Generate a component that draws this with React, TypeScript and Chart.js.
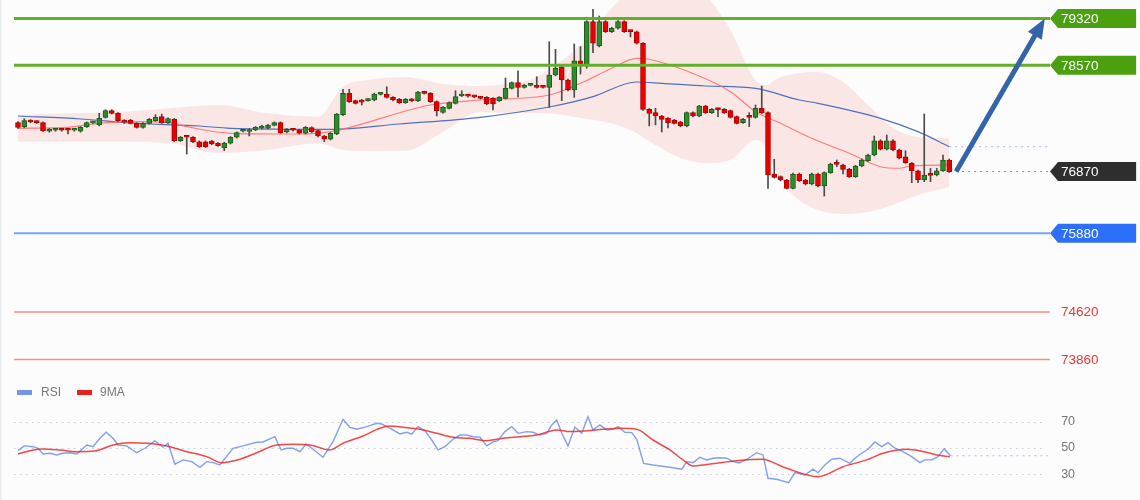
import React, { useEffect, useRef } from "react";
import { Chart, registerables } from "chart.js";
Chart.register(...registerables);

// ---------- candle data (price) ----------
const OPEN = [
  77652, 77588, 77684, 77668, 77652, 77514, 77530, 77540, 77535, 77530,
  77514, 77588, 77650, 77615, 77738, 77844, 77802, 77679, 77695, 77642,
  77578, 77642, 77684, 77748, 77652, 77706, 77363, 77423, 77418, 77347,
  77347, 77359, 77322, 77247, 77322, 77418, 77515, 77510, 77535, 77562,
  77562, 77610, 77652, 77503, 77540, 77535, 77482, 77572, 77524, 77439,
  77386, 77471, 77775, 78122, 78004, 77990, 78004, 78015, 78105, 78111,
  78058, 78026, 77972, 78026, 78004, 78143, 78122, 77988, 77818, 77882,
  77962, 78079, 78085, 78075, 78055, 78058, 78042, 78004, 78042, 78202,
  78292, 78218, 78250, 78250, 78239, 78218, 78415, 78548, 78335, 78175,
  78644, 78575, 79269, 78880, 79269, 79108, 79163, 79269, 79125, 79108,
  78923, 77866, 77812, 77759, 77722, 77695, 77663, 77599, 77812, 77759,
  77919, 77812, 77870, 77866, 77844, 77748, 77652, 77748, 77738, 77882,
  77812, 76830, 76787, 76734, 76601, 76830, 76734, 76670, 76830, 76638,
  76851, 76995, 76974, 76905, 76787, 76958, 77043, 77134, 77363, 77226,
  77363, 77215, 77107, 77002, 76883, 76734, 76820, 76814, 76883, 77055,
];
const HIGH = [
  77670, 77716, 77700, 77680, 77665, 77560, 77555, 77550, 77546, 77555,
  77590, 77665, 77675, 77802, 77860, 77860, 77815, 77700, 77705, 77650,
  77655, 77720, 77780, 77790, 77730, 77720, 77430, 77435, 77430, 77360,
  77360, 77370, 77335, 77340, 77430, 77505, 77545, 77555, 77590, 77612,
  77625, 77665, 77665, 77560, 77550, 77545, 77590, 77585, 77535, 77450,
  77495, 77800, 78186, 78186, 78015, 78026, 78040, 78125, 78125, 78228,
  78070, 78040, 78040, 78040, 78155, 78155, 78135, 78000, 77910, 77985,
  78164, 78164, 78095, 78090, 78065, 78070, 78055, 78070, 78367, 78305,
  78484, 78268, 78270, 78388, 78250, 78948, 78827, 78560, 78350, 78912,
  78870, 79285, 79467, 79360, 79285, 79180, 79285, 79285, 79135, 79120,
  78935, 77880, 77882, 77770, 77735, 77705, 77675, 77825, 77825, 77930,
  77930, 77880, 77882, 77880, 77855, 77760, 77720, 77812, 77935, 78239,
  77825, 77066, 76800, 76745, 76845, 76845, 76745, 76845, 76845, 76865,
  77005, 77055, 76990, 76920, 76970, 77070, 77150, 77439, 77380, 77455,
  77380, 77230, 77203, 77015, 76895, 77791, 76920, 76920, 77134, 77070,
];
const LOW = [
  77560, 77570, 77650, 77640, 77510, 77500, 77515, 77515, 77471, 77515,
  77500, 77575, 77640, 77600, 77725, 77790, 77670, 77640, 77630, 77565,
  77565, 77630, 77675, 77640, 77640, 77350, 77350, 77150, 77330, 77255,
  77255, 77300, 77270, 77203, 77310, 77405, 77505, 77439, 77525, 77550,
  77550, 77600, 77480, 77490, 77515, 77470, 77470, 77495, 77425, 77347,
  77375, 77460, 77765, 77975, 77950, 77935, 77995, 78000, 78095, 78045,
  78000, 77960, 77960, 77990, 77990, 78110, 77975, 77759, 77805, 77870,
  77950, 78070, 78060, 78050, 78030, 77940, 77855, 77990, 78030, 78190,
  78063, 78205, 78240, 78205, 78205, 77898, 78400, 78004, 78160, 78058,
  78431, 78523, 78772, 78865, 79095, 79095, 79150, 79095, 79024, 78910,
  77850, 77599, 77615, 77503, 77570, 77630, 77585, 77585, 77745, 77745,
  77800, 77800, 77748, 77800, 77725, 77630, 77640, 77588, 77725, 77800,
  76601, 76765, 76720, 76590, 76590, 76710, 76655, 76655, 76625, 76478,
  76840, 76947, 76830, 76775, 76775, 76945, 77030, 77120, 77215, 77215,
  77200, 77070, 77000, 76691, 76691, 76707, 76707, 76800, 76870, 76855,
];
const CLOSE = [
  77578, 77684, 77663, 77652, 77524, 77546, 77540, 77530, 77530, 77540,
  77578, 77652, 77660, 77722, 77844, 77802, 77684, 77660, 77642, 77578,
  77642, 77706, 77738, 77652, 77716, 77363, 77418, 77418, 77342, 77267,
  77267, 77311, 77283, 77327, 77418, 77492, 77530, 77540, 77578, 77599,
  77615, 77652, 77492, 77546, 77530, 77482, 77578, 77508, 77439, 77386,
  77482, 77791, 78122, 77988, 77962, 77980, 78026, 78111, 78115, 78058,
  78015, 77972, 78026, 78000, 78143, 78122, 77988, 77844, 77898, 77972,
  78068, 78095, 78075, 78065, 78040, 77951, 77951, 78058, 78202, 78292,
  78218, 78255, 78258, 78218, 78218, 78415, 78523, 78335, 78175, 78644,
  78575, 79269, 78923, 79269, 79108, 79163, 79269, 79108, 79110, 78923,
  77866, 77802, 77759, 77706, 77652, 77642, 77599, 77812, 77759, 77919,
  77812, 77866, 77862, 77812, 77738, 77642, 77706, 77738, 77882, 77812,
  76814, 76777, 76734, 76601, 76830, 76723, 76670, 76830, 76638, 76851,
  76990, 76985, 76905, 76787, 76958, 77055, 77134, 77363, 77226, 77363,
  77215, 77082, 77011, 76883, 76734, 76814, 76808, 76883, 77055, 76867,
];

// ---------- moving averages (sampled points: candle index, price) ----------
const MA_SLOW_X = [0, 10, 18, 29, 34, 50, 61, 74, 85, 89, 92, 99, 103, 110, 118, 125, 128, 138, 144, 149];
const MA_SLOW_V = [77759, 77711, 77647, 77599, 77562, 77546, 77631, 77738, 77903, 77988, 78068, 78303, 78282, 78239, 78202, 78015, 77962, 77722, 77508, 77267];
const MA_FAST_X = [0, 8, 13, 18, 24, 27, 34, 45, 50, 66, 74, 85, 90, 95, 99, 101, 109, 114, 118, 122, 127, 133, 138, 141, 143, 149];
const MA_FAST_V = [77562, 77578, 77642, 77668, 77652, 77588, 77482, 77471, 77508, 77935, 78015, 78095, 78282, 78523, 78683, 78667, 78399, 78148, 77828, 77642, 77402, 77162, 76947, 76922, 76963, 76974];

// ---------- bollinger band envelope ----------
const BAND_X = [0, 8, 16, 24, 32, 40, 48, 52, 56, 62, 68, 74, 78, 82, 86, 90, 94, 98, 102, 106, 110, 114, 118, 120, 121, 124, 128, 132, 136, 140, 144, 149];
const BAND_UP = [77775, 77802, 77823, 77882, 77935, 77802, 77748, 78228, 78335, 78383, 78271, 78239, 78271, 78335, 78575, 78896, 79376, 79776, 80016, 80016, 79696, 79136, 78335, 78255, 78335, 78431, 78463, 78303, 77935, 77567, 77423, 77407];
const BAND_LO = [77347, 77347, 77347, 77327, 77167, 77215, 77322, 77215, 77199, 77203, 77503, 77823, 77807, 77807, 77791, 77727, 77663, 77535, 77294, 77086, 77006, 77055, 77375, 77215, 76926, 76494, 76254, 76190, 76222, 76334, 76494, 76622];

// ---------- RSI panel ----------
const RSI_X = [0, 1, 2.4, 3.2, 4, 5.1, 6.2, 7.2, 8.3, 9.4, 11, 12, 13.1, 14.1, 15.2, 16, 17.4, 19, 20.3, 21.9, 23.2, 24, 25.1, 26.4, 27.8, 29.1, 30.2, 31.2, 32.3, 34.4, 36, 38.2, 39.2, 41.1, 42.1, 43, 44, 45.1, 46.1, 47, 48.8, 50.4, 52, 53.1, 54.2, 55.8, 57.4, 58.2, 59.5, 61.1, 62.2, 63, 64, 65.1, 66.2, 67.2, 68.3, 69.6, 70.7, 71.8, 72.8, 73.9, 75, 76.1, 76.8, 77.9, 79, 80, 81.4, 82.4, 83.5, 84.6, 85.4, 86.2, 87, 88, 89.1, 90.2, 91.2, 92, 93.1, 94.2, 95.2, 96, 97.1, 98.2, 99, 100.1, 101.6, 104.3, 106.2, 107, 108, 109.1, 110.2, 111.2, 112.3, 113.4, 114.4, 115.4, 116.6, 118.2, 119.2, 120, 121.4, 123.3, 124.3, 125.9, 127.2, 128, 129.1, 130.2, 131.5, 133.1, 133.9, 135, 136, 137.1, 138.2, 139.2, 140.3, 141.6, 143, 144.3, 145.1, 146.2, 147.2, 148.2, 149.2];
const RSI_V = [47.9, 51.5, 50.9, 49.7, 45.3, 45.9, 44.6, 45.9, 46.3, 45.3, 52.2, 50.9, 57.3, 61.9, 57.3, 52.2, 51.5, 46.3, 49.7, 55.3, 50.5, 53.5, 37.5, 40.8, 39.5, 35.2, 39.5, 38.7, 36.9, 49.7, 51.5, 54.3, 54.5, 58.5, 48.4, 49.7, 49.7, 47.1, 53, 49.7, 42.8, 54.7, 71.8, 65.7, 64.2, 66.2, 68.8, 68.2, 65, 60.6, 61.9, 60.4, 66.2, 63.1, 56, 48.4, 50.9, 56.6, 59.8, 59.8, 58.5, 58.1, 51.5, 54.7, 55.5, 62.4, 66.2, 61.1, 62.4, 61.9, 59.8, 61.1, 67.5, 71.3, 61.1, 51.5, 65.7, 61.1, 73.8, 63.7, 67.5, 63.7, 64.2, 66.2, 61.9, 61.6, 56.6, 38.2, 36.9, 35.2, 33.7, 39.5, 38.7, 42.8, 40.8, 42.1, 42.5, 42.1, 39.5, 38.5, 41.3, 46.3, 44.6, 26.8, 26, 23.4, 31.1, 29.3, 33.7, 31.1, 36.9, 41.3, 42.1, 38.2, 42.1, 45.9, 48.9, 54.5, 50.9, 54, 49.7, 47.1, 43.3, 38.7, 40.8, 40.8, 43.3, 49.2, 44];
const MA9_X = [0, 2.4, 4, 6.7, 9.4, 12.3, 15.2, 17.9, 20.6, 23.8, 27, 30.2, 32.6, 35.5, 38.2, 41.4, 44, 46.7, 49.9, 52, 55.2, 57.9, 59.5, 61.6, 64.3, 67, 69.6, 72.3, 75, 77.6, 80.3, 83, 86.2, 88.3, 91, 93.6, 96.3, 99, 101.6, 104.3, 106.4, 108, 109.6, 112.3, 115, 119, 123, 128, 132, 135.8, 138.4, 142.2, 144.9, 147, 149.1];
const MA9_V = [45.3, 48.4, 49.2, 48.4, 47.1, 47.6, 52.2, 54, 53.5, 51.5, 47.1, 43.3, 38.7, 41.3, 46.3, 52.2, 52.7, 52.2, 48.4, 53.5, 59.1, 65, 66.7, 65.7, 64.2, 61.1, 58.1, 57.3, 55.5, 57.3, 58.5, 59.8, 63.7, 62.4, 63.1, 64.2, 65, 64.2, 56, 48.4, 40.8, 36.2, 36.9, 38.7, 40.2, 41.3, 34.4, 28, 35.6, 40.8, 45.9, 48.9, 47.1, 44.6, 43.3];
const RSI_LEVELS = [70, 50, 30];

// ---------- price levels ----------
const RESISTANCE = [79320, 78570];
const SUPPORT_MAIN = [75880];
const SUPPORT_MINOR = [74620, 73860];
const CURRENT = 76870;
const TARGET = 79320;

// ---------- layout (index / value space) ----------
const X_MIN = -2.88;
const X_MAX = 179.52;
const LEVEL_X0 = -0.64;
const LEVEL_X1 = 165.12;
const TAG_X1 = 178.9;
const RSI_GRID_X1 = 164.3;
const RSI_LABEL_X = 166.9;
const ARROW_FROM = 150.1;
const ARROW_TO = 164.3;

const FONT = '"Liberation Sans", Arial, sans-serif';

function drawTag(ctx: CanvasRenderingContext2D, x0: number, x1: number, yc: number, fill: string, text: string) {
  const h = 9.5;
  ctx.beginPath();
  ctx.moveTo(x0, yc);
  ctx.lineTo(x0 + 8, yc - h);
  ctx.lineTo(x1, yc - h);
  ctx.lineTo(x1, yc + h);
  ctx.lineTo(x0 + 8, yc + h);
  ctx.closePath();
  ctx.fillStyle = fill;
  ctx.fill();
  ctx.fillStyle = "#ffffff";
  ctx.font = `13.5px ${FONT}`;
  ctx.textBaseline = "middle";
  ctx.textAlign = "left";
  ctx.fillText(text, x0 + 11, yc + 0.5);
}

const overlayPlugin = {
  id: "overlay",
  beforeDraw(chart: any) {
    const ctx = chart.ctx;
    ctx.save();
    ctx.fillStyle = "#fcfcfc";
    ctx.fillRect(0, 0, chart.width, chart.height);
    ctx.fillStyle = "#e8ecef";
    ctx.fillRect(0, 0, 1.5, chart.height);
    ctx.restore();
  },
  beforeDatasetsDraw(chart: any) {
    const ctx = chart.ctx;
    const xs = chart.scales.x;
    const r = chart.scales.yr;
    ctx.save();
    ctx.strokeStyle = "#c4cad8";
    ctx.lineWidth = 1;
    ctx.setLineDash([1.5, 4.5]);
    for (const v of RSI_LEVELS) {
      const y = Math.round(r.getPixelForValue(v)) + 0.5;
      ctx.beginPath();
      ctx.moveTo(xs.getPixelForValue(LEVEL_X0), y);
      ctx.lineTo(xs.getPixelForValue(RSI_GRID_X1), y);
      ctx.stroke();
    }
    ctx.setLineDash([]);
    ctx.fillStyle = "#777777";
    ctx.font = `12.5px ${FONT}`;
    ctx.textBaseline = "middle";
    for (const v of RSI_LEVELS) {
      ctx.fillText(String(v), xs.getPixelForValue(RSI_LABEL_X), r.getPixelForValue(v));
    }
    // legend
    ctx.fillStyle = "rgba(90,130,230,0.85)";
    ctx.fillRect(17, 390, 15, 5);
    ctx.fillStyle = "#e82020";
    ctx.fillRect(77, 390, 15, 5);
    ctx.fillStyle = "#777777";
    ctx.font = `12px ${FONT}`;
    ctx.fillText("RSI", 41, 392.5);
    ctx.fillText("9MA", 100, 392.5);
    ctx.restore();
  },
  afterDatasetsDraw(chart: any) {
    const ctx = chart.ctx;
    const xs = chart.scales.x;
    const ys = chart.scales.y;
    const r = chart.scales.yr;
    const x0 = xs.getPixelForValue(LEVEL_X0);
    const x1 = xs.getPixelForValue(LEVEL_X1);
    const xt = xs.getPixelForValue(TAG_X1);
    ctx.save();

    // dotted guides
    ctx.lineWidth = 1;
    ctx.setLineDash([2, 4]);
    ctx.strokeStyle = "#9db6e8";
    let y = ys.getPixelForValue(MA_SLOW_V[MA_SLOW_V.length - 1]);
    ctx.beginPath();
    ctx.moveTo(xs.getPixelForValue(MA_SLOW_X[MA_SLOW_X.length - 1]), y);
    ctx.lineTo(x1, y);
    ctx.stroke();
    ctx.strokeStyle = "#8a8a8a";
    y = ys.getPixelForValue(CURRENT);
    ctx.beginPath();
    ctx.moveTo(xs.getPixelForValue(ARROW_FROM), y);
    ctx.lineTo(x1, y);
    ctx.stroke();
    ctx.strokeStyle = "#a9c0f0";
    y = r.getPixelForValue(RSI_V[RSI_V.length - 1]);
    ctx.beginPath();
    ctx.moveTo(xs.getPixelForValue(RSI_X[RSI_X.length - 1]), y);
    ctx.lineTo(x1 - 2, y);
    ctx.stroke();
    ctx.setLineDash([]);

    // resistance lines
    for (const v of RESISTANCE) {
      const yy = ys.getPixelForValue(v);
      ctx.strokeStyle = "#62b02a";
      ctx.lineWidth = 3;
      ctx.beginPath();
      ctx.moveTo(x0, yy);
      ctx.lineTo(x1, yy);
      ctx.stroke();
      drawTag(ctx, x1, xt, yy, "#4aa00e", String(v));
    }
    for (const v of SUPPORT_MAIN) {
      const yy = ys.getPixelForValue(v);
      ctx.strokeStyle = "#78a6f2";
      ctx.lineWidth = 2;
      ctx.beginPath();
      ctx.moveTo(x0, yy);
      ctx.lineTo(x1, yy);
      ctx.stroke();
      drawTag(ctx, x1, xt, yy, "#2c6ff8", String(v));
    }
    for (const v of SUPPORT_MINOR) {
      const yy = ys.getPixelForValue(v);
      ctx.strokeStyle = "#ff8a8a";
      ctx.lineWidth = 1.5;
      ctx.beginPath();
      ctx.moveTo(x0, yy);
      ctx.lineTo(x1, yy);
      ctx.stroke();
      ctx.fillStyle = "#ee3535";
      ctx.font = `13.5px ${FONT}`;
      ctx.textBaseline = "middle";
      ctx.fillText(String(v), x1 + 11, yy + 0.5);
    }
    drawTag(ctx, x1, xt, ys.getPixelForValue(CURRENT), "#2e2e2e", String(CURRENT));

    // arrow
    const ax0 = xs.getPixelForValue(ARROW_FROM);
    const ay0 = ys.getPixelForValue(CURRENT);
    const ax1 = xs.getPixelForValue(ARROW_TO);
    const ay1 = ys.getPixelForValue(TARGET);
    const dx = ax1 - ax0;
    const dy = ay1 - ay0;
    const len = Math.hypot(dx, dy);
    const ux = dx / len;
    const uy = dy / len;
    const hl = 20;
    const hw = 8;
    const bx = ax1 - ux * hl;
    const by = ay1 - uy * hl;
    ctx.strokeStyle = "#3563a8";
    ctx.fillStyle = "#3563a8";
    ctx.lineWidth = 5;
    ctx.lineCap = "butt";
    ctx.beginPath();
    ctx.moveTo(ax0, ay0);
    ctx.lineTo(bx + ux * 2, by + uy * 2);
    ctx.stroke();
    ctx.beginPath();
    ctx.moveTo(ax1, ay1);
    ctx.lineTo(bx - uy * hw, by + ux * hw);
    ctx.lineTo(bx + uy * hw, by - ux * hw);
    ctx.closePath();
    ctx.fill();
    ctx.restore();
  },
};

export default function App() {
  const ref = useRef<HTMLCanvasElement | null>(null);
  useEffect(() => {
    document.body.style.margin = "0";
    const canvas = ref.current;
    if (!canvas) return;
    const up = OPEN.map((o, i) => CLOSE[i] >= o);
    const chart = new Chart(canvas, {
      type: "bar",
      data: {
        datasets: [
          {
            type: "bar",
            label: "body",
            data: OPEN.map((o, i) => ({ x: i, y: [Math.min(o, CLOSE[i]), Math.max(o, CLOSE[i])] })) as any,
            backgroundColor: up.map((u) => (u ? "#2e8b2e" : "#e60000")),
            borderColor: up.map((u) => (u ? "#1c5c1c" : "#b40000")),
            borderWidth: 1,
            borderSkipped: false,
            barThickness: 5,
            minBarLength: 2,
            grouped: false,
            xAxisID: "x",
            yAxisID: "y",
            order: 0,
          } as any,
          {
            type: "bar",
            label: "wick",
            data: LOW.map((l, i) => ({ x: i, y: [l, HIGH[i]] })) as any,
            backgroundColor: "#4a4a4a",
            borderWidth: 0,
            barThickness: 1,
            grouped: false,
            xAxisID: "x",
            yAxisID: "y",
            order: 1,
          } as any,
          {
            type: "line",
            label: "ma fast",
            data: MA_FAST_X.map((x, k) => ({ x, y: MA_FAST_V[k] })),
            borderColor: "rgba(255,105,105,0.85)",
            borderWidth: 1.2,
            pointRadius: 0,
            cubicInterpolationMode: "monotone",
            xAxisID: "x",
            yAxisID: "y",
            order: 2,
          } as any,
          {
            type: "line",
            label: "ma slow",
            data: MA_SLOW_X.map((x, k) => ({ x, y: MA_SLOW_V[k] })),
            borderColor: "rgba(60,100,180,0.9)",
            borderWidth: 1.2,
            pointRadius: 0,
            cubicInterpolationMode: "monotone",
            xAxisID: "x",
            yAxisID: "y",
            order: 3,
          } as any,
          {
            type: "line",
            label: "band up",
            data: BAND_X.map((x, k) => ({ x, y: BAND_UP[k] })),
            borderColor: "transparent",
            backgroundColor: "rgba(250,70,70,0.12)",
            fill: "+1",
            pointRadius: 0,
            cubicInterpolationMode: "monotone",
            xAxisID: "x",
            yAxisID: "y",
            order: 5,
          } as any,
          {
            type: "line",
            label: "band lo",
            data: BAND_X.map((x, k) => ({ x, y: BAND_LO[k] })),
            borderColor: "transparent",
            fill: false,
            pointRadius: 0,
            cubicInterpolationMode: "monotone",
            xAxisID: "x",
            yAxisID: "y",
            order: 6,
          } as any,
          {
            type: "line",
            label: "RSI",
            data: RSI_X.map((x, k) => ({ x, y: RSI_V[k] })),
            borderColor: "rgba(90,130,230,0.75)",
            borderWidth: 1.4,
            pointRadius: 0,
            tension: 0,
            xAxisID: "x",
            yAxisID: "yr",
            order: 8,
          } as any,
          {
            type: "line",
            label: "9MA",
            data: MA9_X.map((x, k) => ({ x, y: MA9_V[k] })),
            borderColor: "rgba(240,40,40,0.85)",
            borderWidth: 1.5,
            pointRadius: 0,
            cubicInterpolationMode: "monotone",
            xAxisID: "x",
            yAxisID: "yr",
            order: 7,
          } as any,
        ],
      },
      options: {
        animation: false,
        responsive: false,
        devicePixelRatio: 1,
        events: [],
        layout: { padding: 0 },
        plugins: { legend: { display: false }, tooltip: { enabled: false } },
        scales: {
          x: { type: "linear", min: X_MIN, max: X_MAX, display: false, offset: false },
          y: { type: "linear", min: 71611, max: 79616, display: false },
          yr: { type: "linear", position: "right", min: 10.2, max: 391.9, display: false },
        },
      } as any,
      plugins: [overlayPlugin],
    });
    return () => chart.destroy();
  }, []);
  return <canvas ref={ref} width={1140} height={500} style={{ display: "block" }} />;
}
